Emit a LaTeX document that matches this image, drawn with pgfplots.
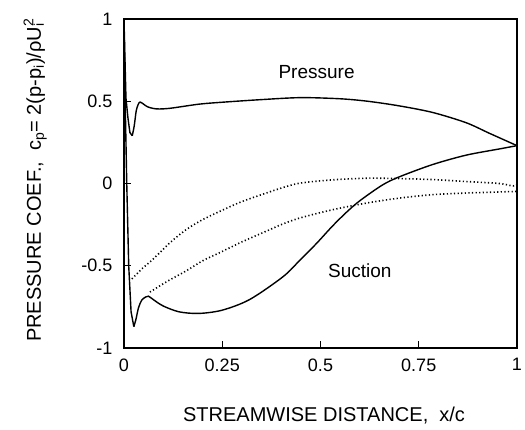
\documentclass[border=0pt]{standalone}
\usepackage{pgfplots}
\pgfplotsset{compat=1.18}
\usepackage{fontspec}
\setmainfont{Liberation Sans}
\begin{document}
\begin{tikzpicture}
\useasboundingbox (-124pt,-82pt) rectangle (401pt,348pt);
\begin{axis}[
  at={(0pt,0pt)}, anchor=south west,
  scale only axis, width=393pt, height=329pt,
  xmin=0, xmax=1, ymin=-1, ymax=1,
  xtick={0,0.25,0.5,0.75,1}, xticklabels={0,0.25,0.5,0.75,1},
  ytick={-1,-0.5,0,0.5,1}, yticklabels={-1,-0.5,0,0.5,1},
  xtick pos=lower, ytick pos=left, tick align=inside,
  major tick length=7pt,
  every tick/.style={black, line width=1.2pt},
  axis line style={line width=1.6pt},
  tick label style={font=\fontsize{18}{20}\selectfont},
  xticklabel style={yshift=-7pt},
  yticklabel style={xshift=-8pt},
  xlabel={STREAMWISE DISTANCE,\ \ x/c},
  ylabel={PRESSURE COEF.,\ \ c\textsubscript{p}= 2(p-p\textsubscript{i})/ρU\rlap{\textsubscript{i}}\textsuperscript{2}},
  label style={font=\fontsize{20}{22}\selectfont},
  xlabel style={at={(axis description cs:0.509,-0.204)}, anchor=center},
  ylabel style={at={(axis description cs:-0.226,0.51)}, anchor=center},
  clip=false,
]
% Pressure side: leading edge
\addplot[black, line width=1.4pt] coordinates {
(0,1.0) (0.002,0.8) (0.005,0.52) (0.01,0.40) (0.015,0.31) (0.021,0.29)
};
\addplot[black, line width=1.4pt, smooth, tension=0.5] coordinates {
(0.021,0.29) (0.026,0.35) (0.031,0.44) (0.036,0.48) (0.041,0.495) (0.05,0.482) (0.06,0.466) (0.075,0.456) (0.09,0.453) (0.12,0.458) (0.19,0.482) (0.25,0.494) (0.35,0.51) (0.45,0.522) (0.55,0.515) (0.62,0.50) (0.70,0.472) (0.785,0.432) (0.87,0.37) (0.93,0.305) (1.0,0.23)
};
% Suction side: leading edge
\addplot[black, line width=1.4pt] coordinates {
(0,1.0) (0.003,0.5) (0.007,0.0) (0.012,-0.5) (0.018,-0.78) (0.025,-0.87)
};
\addplot[black, line width=1.4pt, smooth, tension=0.5] coordinates {
(0.025,-0.87) (0.03,-0.83) (0.037,-0.755) (0.045,-0.71) (0.055,-0.69) (0.062,-0.685) (0.08,-0.715) (0.1,-0.745) (0.14,-0.78) (0.19,-0.79) (0.25,-0.77) (0.32,-0.705) (0.405,-0.566) (0.45,-0.46) (0.49,-0.364) (0.53,-0.26) (0.566,-0.175) (0.6,-0.105) (0.657,-0.01) (0.70,0.04) (0.785,0.115) (0.87,0.172) (0.955,0.21) (1.0,0.23)
};
% Dotted upper
\addplot[black, line width=1.6pt, dash pattern=on 1.2pt off 2.4pt, smooth, tension=0.5] coordinates {
(0.02,-0.58) (0.045,-0.52) (0.074,-0.46) (0.117,-0.36) (0.159,-0.279) (0.2,-0.22) (0.244,-0.169) (0.30,-0.11) (0.362,-0.058) (0.40,-0.028) (0.447,0.002) (0.53,0.022) (0.617,0.032) (0.70,0.03) (0.785,0.024) (0.87,0.012) (0.955,0.0) (0.99,-0.015) (1,-0.005)
};
% Dotted lower
\addplot[black, line width=1.6pt, dash pattern=on 1.2pt off 2.4pt, smooth, tension=0.5] coordinates {
(0.066,-0.66) (0.11,-0.595) (0.159,-0.53) (0.2,-0.47) (0.244,-0.42) (0.30,-0.355) (0.362,-0.29) (0.40,-0.25) (0.447,-0.21) (0.53,-0.16) (0.617,-0.119) (0.70,-0.089) (0.785,-0.068) (0.87,-0.058) (0.95,-0.052) (1.0,-0.048)
};
\node[font=\fontsize{19}{21}\selectfont] at (axis cs:0.49,0.68) {Pressure};
\node[font=\fontsize{19}{21}\selectfont] at (axis cs:0.60,-0.53) {Suction};
\end{axis}
\end{tikzpicture}
\end{document}
